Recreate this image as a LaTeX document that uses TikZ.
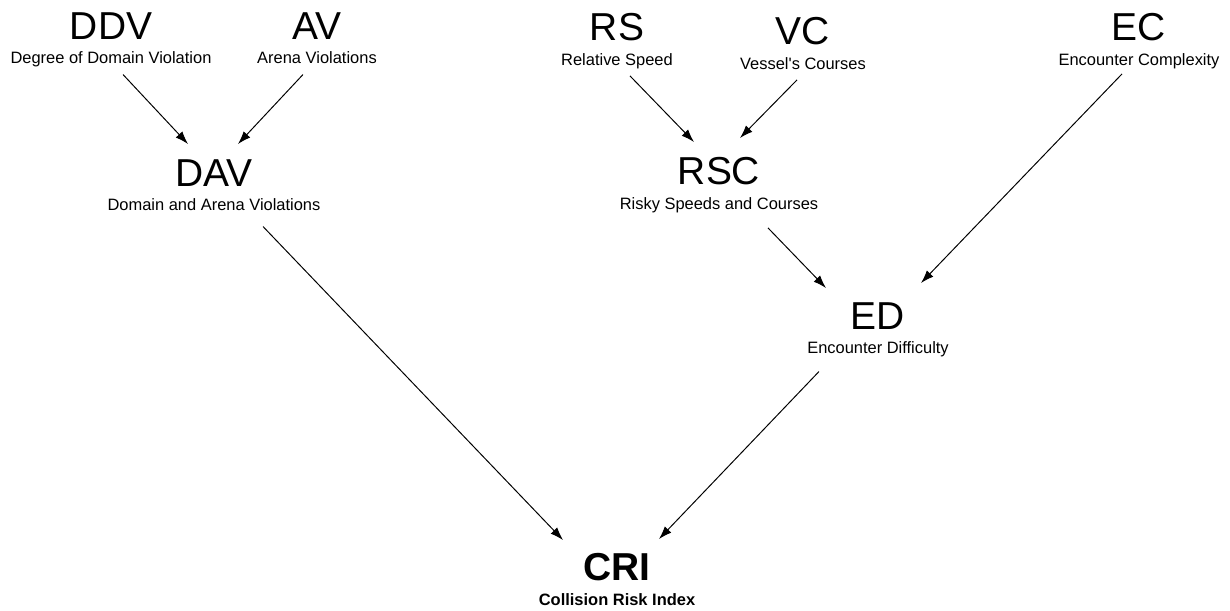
\documentclass[tikz,border=0pt]{standalone}
\usepackage{fontspec}
\setmainfont{Liberation Sans}
\usetikzlibrary{arrows.meta}
\newcommand*{\subline}[1]{\fontsize{11.7}{14}\selectfont #1\vphantom{g}}

\begin{document}
\begin{tikzpicture}[x=0.025cm, y=-0.025cm,
    concept/.style={anchor=north, inner sep=0pt, align=center,
      font=\fontsize{27.7}{17.6}\selectfont},
    line/.style={draw, line width=0.7pt, -{Latex[length=0.325cm, width=0.225cm]}}]
    \useasboundingbox (0,0) rectangle (1230,611);
    % top row
    \node [concept] (ddv) at (111,12) {DDV\\ \subline{Degree of Domain Violation}};
    \node [concept] (av)  at (317,12) {AV\\ \subline{Arena Violations}};
    \node [concept] (rs)  at (617,13) {RS\\ \subline{Relative Speed}};
    \node [concept] (vc)  at (803,17) {VC\\ \subline{Vessel\textquotesingle s Courses}};
    \node [concept] (ec)  at (1139,13) {EC\\ \subline{Encounter Complexity}};
    % row 2
    \node [concept] (dav) at (214,159) {DAV\\ \subline{Domain and Arena Violations}};
    \node [concept] (rsc) at (719,157) {RSC\\ \subline{Risky Speeds and Courses}};
    % row 3
    \node [concept] (ed)  at (878,302) {ED\\ \subline{Encounter Difficulty}};
    % bottom
    \node [concept, font=\fontsize{27.7}{17.6}\selectfont\bfseries] (cri) at (617,553)
      {CRI\\ \subline{\bfseries Collision Risk Index}};
    % connecting nodes with paths
    \begin{scope}[every path/.style=line]
      \path ([xshift=0.3cm, yshift=-0.175cm]ddv.south)    -- ([xshift=-0.65cm, yshift=0.375cm]dav.north);
      \path ([xshift=-0.35cm, yshift=-0.175cm]av.south)   -- ([xshift=0.6cm, yshift=0.375cm]dav.north);
      \path ([xshift=0.325cm, yshift=-0.175cm]rs.south)   -- ([xshift=-0.625cm, yshift=0.375cm]rsc.north);
      \path ([xshift=-0.15cm, yshift=-0.175cm]vc.south)   -- ([xshift=0.525cm, yshift=0.475cm]rsc.north);
      \path ([xshift=-0.425cm, yshift=-0.125cm]ec.south)  -- ([xshift=1.075cm, yshift=0.475cm]ed.north);
      \path ([xshift=1.225cm, yshift=-0.375cm]rsc.south)  -- ([xshift=-1.3cm, yshift=0.35cm]ed.north);
      \path ([xshift=1.225cm, yshift=-0.3cm]dav.south)    -- ([xshift=-1.35cm, yshift=0.325cm]cri.north);
      \path ([xshift=-1.475cm, yshift=-0.35cm]ed.south)   -- ([xshift=1.05cm, yshift=0.35cm]cri.north);
    \end{scope}
\end{tikzpicture}
\end{document}
